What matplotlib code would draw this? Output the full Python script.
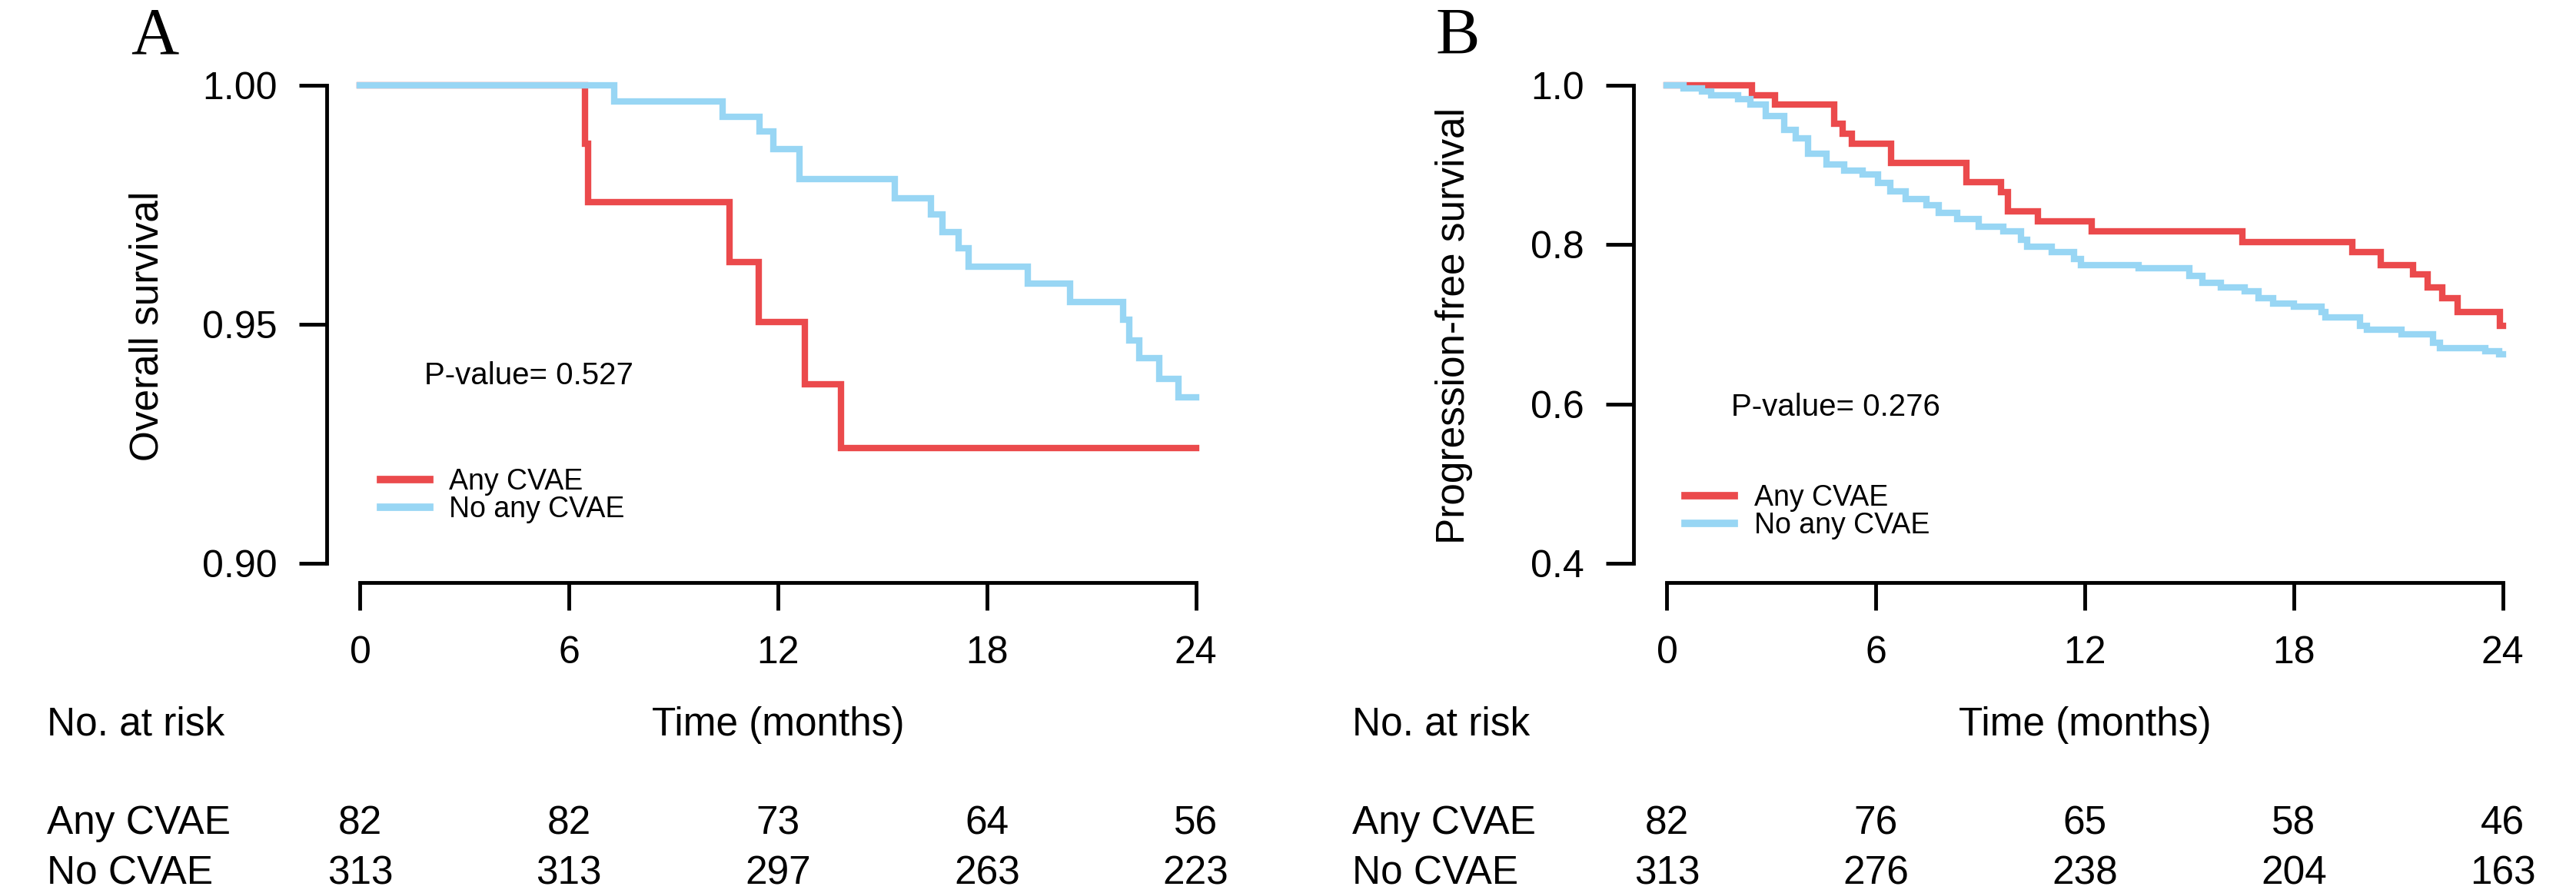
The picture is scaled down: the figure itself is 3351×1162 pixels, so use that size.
import matplotlib
matplotlib.use("Agg")
import matplotlib.pyplot as plt
import matplotlib.transforms as mtransforms

# Taille de la figure (pixels)
W, H = 3351, 1162
DPI = 100

# Couleurs des courbes
RED = "#EB4A4C"
BLUE = "#98D6F4"

# Axe du temps (mois)
months = [0, 6, 12, 18, 24]

# A : survie globale, groupe "Any CVAE"
os_any_t = [0, 6.45, 6.55, 10.62, 11.45, 12.78, 13.82, 24]
os_any_s = [1.0, 0.9878, 0.9756, 0.9630, 0.9505, 0.9375, 0.9241, 0.9241]

# A : survie globale, groupe "No any CVAE"
os_no_t = [0, 7.3, 10.42, 11.48, 11.86, 12.62, 15.35, 16.4, 16.73, 17.18, 17.48,
           19.18, 20.4, 21.92, 22.1, 22.37, 22.96, 23.5, 24]
os_no_s = [1.0, 0.9966, 0.9934, 0.9903, 0.9867, 0.9804, 0.9764, 0.9730, 0.9693, 0.9659, 0.9621,
           0.9585, 0.9547, 0.9510, 0.9467, 0.9429, 0.9386, 0.9347, 0.9347]

# B : survie sans progression, groupe "Any CVAE"
pfs_any_t = [0, 2.45, 3.1, 4.8, 5.05, 5.3, 6.43, 8.6, 9.6, 9.8, 10.65, 12.2, 16.52,
             19.68, 20.5, 21.42, 21.85, 22.26, 22.7, 23.92, 24]
pfs_any_s = [1.0, 0.9878, 0.9756, 0.9512, 0.9390, 0.9268, 0.9024, 0.8780, 0.8658, 0.8414,
             0.8292, 0.8165, 0.8035, 0.7905, 0.7745, 0.7625, 0.7460, 0.7330, 0.7150, 0.6985, 0.6985]

# B : survie sans progression, groupe "No any CVAE"
pfs_no_t = [0, 0.48, 1.0, 1.27, 2.05, 2.4, 2.84, 3.36, 3.7, 4.06, 4.58, 5.1, 5.63, 6.07,
            6.42, 6.85, 7.46, 7.81, 8.34, 8.95, 9.65, 10.17, 10.34, 11.04, 11.7, 11.9,
            13.55, 15.0, 15.37, 15.9, 16.6, 17.0, 17.4, 18.0, 18.8, 18.9, 19.9, 20.1,
            21.1, 22.0, 22.2, 23.5, 23.9, 24]
pfs_no_s = [1.0, 0.9963, 0.992, 0.987, 0.983, 0.976, 0.961, 0.944, 0.933, 0.9145, 0.9007,
            0.893, 0.888, 0.877, 0.867, 0.8576, 0.849, 0.8396, 0.8318, 0.822, 0.817, 0.806,
            0.7974, 0.791, 0.782, 0.774, 0.770, 0.761, 0.752, 0.746, 0.7415, 0.733, 0.7265,
            0.722, 0.7155, 0.709, 0.698, 0.693, 0.687, 0.677, 0.670, 0.666, 0.662, 0.662]

# Nombre de sujets à risque
risk_os_any = [82, 82, 73, 64, 56]
risk_os_no = [313, 313, 297, 263, 223]
risk_pfs_any = [82, 76, 65, 58, 46]
risk_pfs_no = [313, 276, 238, 204, 163]

os_yticks = [0.90, 0.95, 1.00]
os_ylabels = ["0.90", "0.95", "1.00"]
pfs_yticks = [0.4, 0.6, 0.8, 1.0]
pfs_ylabels = ["0.4", "0.6", "0.8", "1.0"]

plt.rcParams["font.family"] = ["Liberation Sans", "DejaVu Sans"]

fig = plt.figure(figsize=(W / DPI, H / DPI), dpi=DPI)
fig.patch.set_facecolor("white")


def fx(x):
    return x / W


def fy(y):
    return 1 - y / H


def make_panel(left, yticks, ylabels, t_any, s_any, t_no, s_no, pval, pval_y, leg_y,
               risk_any, risk_no, ylabel, letter, shift):
    right = left + 1174
    ax = fig.add_axes([fx(left), fy(758), (right - left) / W, (758 - 86) / H])
    lo, hi = yticks[0], yticks[-1]
    pad = (hi - lo) * 0.04
    ax.set_xlim(-0.96, 24.96)
    ax.set_ylim(lo - pad, hi + pad)

    # Courbes de Kaplan-Meier
    ax.step(t_any, s_any, where="post", color=RED, lw=6, label="Any CVAE",
            solid_joinstyle="miter")
    ax.step(t_no, s_no, where="post", color=BLUE, lw=6, label="No any CVAE",
            solid_joinstyle="miter")

    # Axes style R
    for s in ["top", "right"]:
        ax.spines[s].set_visible(False)
    ax.spines["left"].set_bounds(lo, hi)
    ax.spines["bottom"].set_bounds(0, 24)
    ax.spines["left"].set_linewidth(3.5)
    ax.spines["bottom"].set_linewidth(3.5)
    ax.set_xticks(months)
    ax.set_xticklabels([str(m) for m in months])
    ax.set_yticks(yticks)
    ax.set_yticklabels(ylabels)
    ax.tick_params(axis="both", length=26, width=3.5, labelsize=36)
    ax.tick_params(axis="y", pad=20)
    ax.tick_params(axis="x", pad=24)

    ax.text(4.85, pval, pval_y, ha="center", va="center", fontsize=29)

    leg = ax.legend(loc="center left", bbox_to_anchor=(leg_y[0], leg_y[1]),
                    bbox_transform=ax.transData, frameon=False, fontsize=27,
                    handlelength=1.7, handletextpad=0.68, labelspacing=0.0,
                    borderpad=0, borderaxespad=0)
    for h in leg.get_lines():
        h.set_linewidth(7)

    # Tableau des sujets à risque
    tr = mtransforms.blended_transform_factory(ax.transData, fig.transFigure)
    ax.text(12, fy(943), "Time (months)", transform=tr, ha="center", va="center",
            fontsize=37)
    for m, a, n in zip(months, risk_any, risk_no):
        ax.text(m, fy(1072), str(a), transform=tr, ha="center", va="center",
                fontsize=37, clip_on=False)
        ax.text(m, fy(1137), str(n), transform=tr, ha="center", va="center",
                fontsize=37, clip_on=False)

    fig.text(fx(61 + shift), fy(943), "No. at risk", ha="left", va="center", fontsize=37)
    fig.text(fx(61 + shift), fy(1072), "Any CVAE", ha="left", va="center", fontsize=37)
    fig.text(fx(61 + shift), fy(1137), "No CVAE", ha="left", va="center", fontsize=37)

    fig.text(fx(left - 233), fy(424), ylabel, rotation=90, ha="center", va="center",
             fontsize=37)
    fig.text(fx(170 + shift), fy(70), letter, ha="left", va="baseline", fontsize=62,
             family=["Liberation Serif", "DejaVu Serif"])
    return ax


make_panel(425, os_yticks, os_ylabels, os_any_t, os_any_s, os_no_t, os_no_s,
           0.9392, "P-value= 0.527", (0.585, 0.9141), risk_os_any, risk_os_no,
           "Overall survival", "A", 0)

make_panel(2125, pfs_yticks, pfs_ylabels, pfs_any_t, pfs_any_s, pfs_no_t, pfs_no_s,
           0.596, "P-value= 0.276", (0.53, 0.4646), risk_pfs_any, risk_pfs_no,
           "Progression-free survival", "B", 1698)

fig.savefig("out.png", dpi=DPI, facecolor="white")
